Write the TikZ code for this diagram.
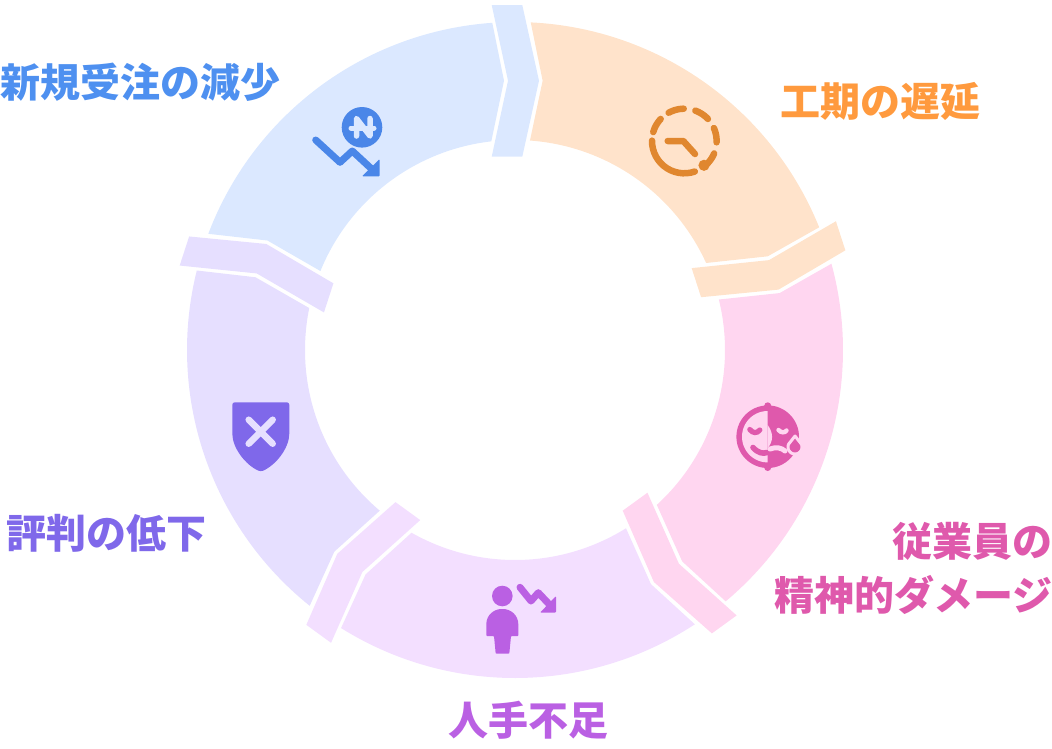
\documentclass[tikz,border=0pt]{standalone}
\usepackage{fontspec}
\newfontfamily\cjk{Noto Sans CJK JP}
\definecolor{blueBg}{HTML}{DBE8FF}
\definecolor{orangeBg}{HTML}{FFE3CB}
\definecolor{pinkBg}{HTML}{FFD6F0}
\definecolor{purpleBg}{HTML}{F3DFFF}
\definecolor{violetBg}{HTML}{E6DFFF}
\definecolor{blueFg}{HTML}{4E90F0}
\definecolor{blueIc}{HTML}{4A86E8}
\definecolor{orangeFg}{HTML}{FF9A3E}
\definecolor{orangeIc}{HTML}{E0872F}
\definecolor{pinkFg}{HTML}{DF59AC}
\definecolor{purpleFg}{HTML}{BA60E3}
\definecolor{violetFg}{HTML}{7F68EA}
\tikzset{
  lab/.style={font=\cjk\bfseries\fontsize{40}{54}\selectfont, inner sep=0pt},
  ln/.style={line width=7pt, line cap=round, line join=round},
}
% one segment and its chevron, built in the frame of the blue segment
\newcommand{\ringseg}[2]{%
  \fill[#2, rotate around={#1:(515,350)}]
    plot[domain=-159.25:-93.97,samples=60,variable=\t] ({515+328*cos(\t)},{350+328*sin(\t)})
    -- (504,80.7)
    -- plot[domain=-96.48:-157.91,samples=60,variable=\t] ({515+210*cos(\t)},{350+210*sin(\t)})
    -- (267.4,240.5) -- cycle;
  \fill[#2, rotate around={#1:(515,350)}]
    (491.7,5) -- (522.3,5) -- (539,80.7) -- (522.3,156.7) -- (491.7,156.7) -- (508,80.7) -- cycle;
}
\begin{document}
\begin{tikzpicture}[x=1pt,y=-1pt]
\useasboundingbox (0,0) rectangle (1052,748);
\ringseg{0}{blueBg}
\ringseg{-72}{orangeBg}
\ringseg{-144}{pinkBg}
\ringseg{-216}{purpleBg}
\ringseg{-288}{violetBg}

% labels
\node[lab,text=blueFg,anchor=west] (t1) at (0,82) {新規受注の減少};
\node[lab,text=orangeFg] (t2) at (880,101) {工期の遅延};
\node[lab,text=pinkFg,anchor=east] (t3a) at (1053,541) {従業員の};
\node[lab,text=pinkFg,anchor=east] (t3b) at (1053,595) {精神的ダメージ};
\node[lab,text=purpleFg] (t4) at (528,720) {人手不足};
\node[lab,text=violetFg] (t5) at (106,533) {評判の低下};

% naira icon
\fill[blueIc] (362,127.3) circle (20.3);
\draw[blueBg,line width=5.5pt,line cap=round,line join=round] (356.5,136) -- (356.5,118.5) -- (370,136) -- (370,118.5);
\draw[blueBg,line width=5pt,line cap=round] (351,128) -- (374,128);
\draw[blueIc,ln] (315.7,140) -- (340,162.3) -- (352.3,151) -- (371.7,169);
\fill[blueIc,rounded corners=1pt] (379.6,159) -- (379.6,176.4) -- (362,176.4) -- cycle;

% clock icon
\begin{scope}[orangeIc,line width=6.5pt,line cap=round,line join=round]
\foreach \a/\b in {-119/-91,-70/-43,-23.6/2.3,22.6/46,71/180.6,196/223}
  \draw plot[domain=\a:\b,samples=16,variable=\t] ({684.3+32.3*cos(\t)},{141+32.3*sin(\t)});
\draw (667.7,141) -- (683.3,141) -- (695,154);
\fill (704,165.3) circle (5.6);
\end{scope}

% face icon
\fill[pinkFg] (767.7,405.8) circle (3.5);
\fill[pinkFg] (767.7,467.5) circle (3.5);
\fill[pinkFg] (767.7,436.7) circle (31.3);
\fill[pinkBg] plot[domain=90:270,samples=40,variable=\t] ({767.7+25.7*cos(\t)},{436.7+25.7*sin(\t)}) -- cycle;
\fill[pinkBg] (767.7,425) .. controls (773.5,433) and (773.5,441) .. (767.7,448) -- cycle;
\draw[pinkFg,line width=5.2pt,line cap=round] (749.8,429.5) .. controls (753,433.5) and (757,433.5) .. (759.8,430);
\draw[pinkBg,line width=4.4pt,line cap=round] (778.5,430) .. controls (781,433) and (785,433) .. (786.5,430.5);
\draw[pinkFg,line width=5.6pt,line cap=round] (753,447.5) .. controls (758,453) and (763,454) .. (767,452.5);
\draw[pinkBg,line width=5pt,line cap=round] (770,449) .. controls (776,446.5) and (782,448) .. (785,451);
\draw[pinkBg,line width=3pt,fill=pinkFg,line join=round] (795,436) -- plot[domain=-25:205,samples=30,variable=\t] ({795+7*cos(\t)},{447+7*sin(\t)}) -- cycle;

% person icon
\fill[purpleFg] (502.3,596) circle (10.3);
\fill[purpleFg,rounded corners=0.8pt] (486.3,636) -- (486.3,625) .. controls (486.3,615) and (494,609) .. (502.3,609) .. controls (510.6,609) and (518.3,615) .. (518.3,625) -- (518.3,636) -- (511,636) -- (509.3,653.7) -- (495.7,653.7) -- (494,636) -- cycle;
\draw[purpleFg,ln] (520,587.3) -- (531,601) -- (538.3,592.7) -- (548.3,603.3);
\fill[purpleFg,rounded corners=1pt] (556,596) -- (556,612.7) -- (540,612.7) -- cycle;

% shield icon
\fill[violetFg,rounded corners=2.5pt] (232.3,402.3) -- (289.3,402.3) -- (289.3,431) .. controls (289.3,448) and (276,465) .. (260.8,471.7) .. controls (245.6,465) and (232.3,448) .. (232.3,431) -- cycle;
\draw[violetBg,line width=6.5pt,line cap=round] (248.7,419.7) -- (272.7,443.7);
\draw[violetBg,line width=6.5pt,line cap=round] (272.7,419.7) -- (248.7,443.7);
\end{tikzpicture}
\end{document}
